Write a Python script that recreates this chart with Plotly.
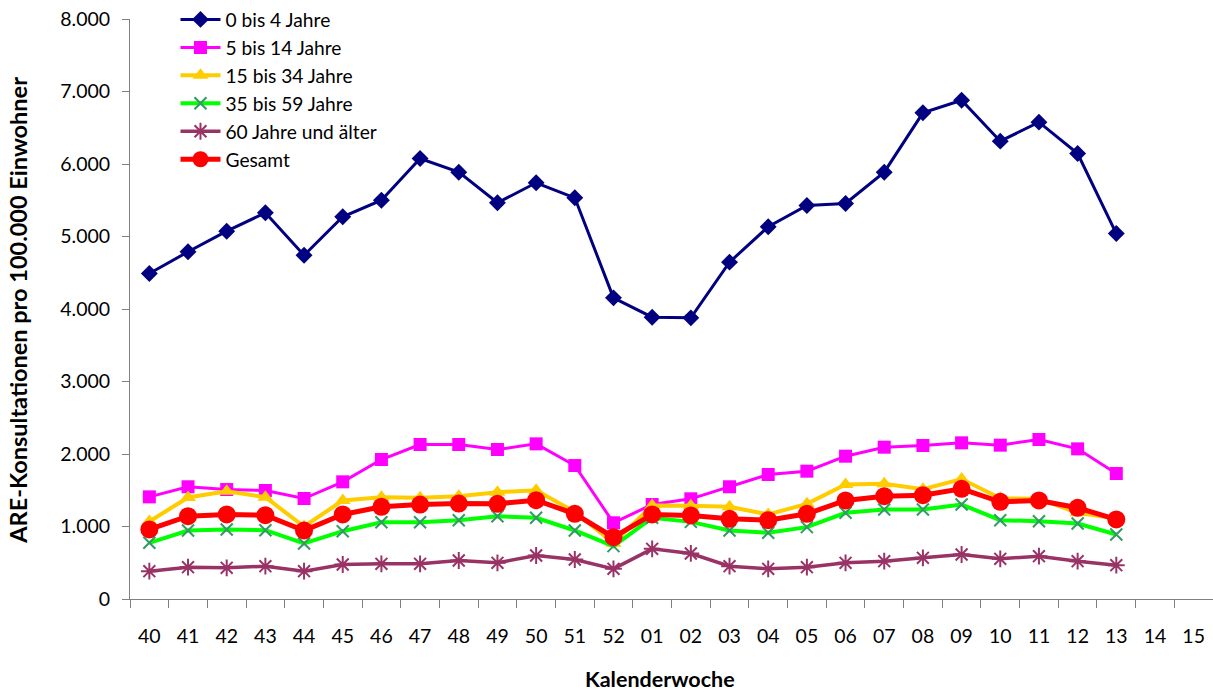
import plotly.graph_objects as go

# Kalenderwochen 40/2012 bis 15/2013
weeks = ["40", "41", "42", "43", "44", "45", "46", "47", "48", "49", "50", "51", "52",
         "01", "02", "03", "04", "05", "06", "07", "08", "09", "10", "11", "12", "13", "14", "15"]

age_0_4 = [4490, 4789, 5073, 5327, 4742, 5272, 5501, 6076, 5887, 5465, 5741, 5534, 4154,
           3887, 3878, 4646, 5134, 5428, 5455, 5887, 6706, 6880, 6315, 6577, 6145, 5041, None, None]
age_5_14 = [1409, 1548, 1510, 1497, 1386, 1616, 1924, 2131, 2131, 2062, 2140, 1841, 1051,
            1303, 1382, 1548, 1717, 1763, 1970, 2094, 2117, 2154, 2122, 2200, 2071, 1731, None, None]
age_15_34 = [1070, 1400, 1487, 1404, 1000, 1359, 1404, 1396, 1418, 1473, 1501, 1200, 770,
             1290, 1285, 1271, 1166, 1313, 1579, 1589, 1515, 1655, 1390, 1382, 1189, 1110, None, None]
age_35_59 = [775, 945, 959, 949, 766, 935, 1059, 1059, 1087, 1142, 1120, 945, 729,
             1120, 1064, 945, 913, 991, 1189, 1234, 1234, 1303, 1087, 1073, 1041, 890, None, None]
age_60_plus = [384, 439, 430, 453, 384, 476, 485, 485, 531, 499, 600, 545, 416,
               692, 628, 453, 416, 439, 499, 522, 568, 614, 554, 591, 522, 467, None, None]
total = [959, 1142, 1166, 1156, 945, 1166, 1271, 1303, 1317, 1313, 1363, 1175, 852,
         1166, 1152, 1106, 1087, 1175, 1359, 1418, 1432, 1520, 1341, 1359, 1258, 1097, None, None]

y_ticks = [0, 1000, 2000, 3000, 4000, 5000, 6000, 7000, 8000]
y_tick_text = ["0", "1.000", "2.000", "3.000", "4.000", "5.000", "6.000", "7.000", "8.000"]

FONT = "Lato, 'Open Sans', sans-serif"

series = [
    ("0 bis 4 Jahre", age_0_4, dict(color="#000080", width=3),
     dict(symbol="diamond", size=13, color="#000080")),
    ("5 bis 14 Jahre", age_5_14, dict(color="#FF00FF", width=3),
     dict(symbol="square", size=13, color="#FF00FF")),
    ("15 bis 34 Jahre", age_15_34, dict(color="#FFCC00", width=4),
     dict(symbol="triangle-up", size=14, color="#FFCC00")),
    ("35 bis 59 Jahre", age_35_59, dict(color="#00FF00", width=4),
     dict(symbol="x-thin-open", size=12, color="#339966", line=dict(width=2, color="#339966"))),
    ("60 Jahre und älter", age_60_plus, dict(color="#993366", width=3.5),
     dict(symbol="asterisk-open", size=14, color="#993366", line=dict(width=2, color="#993366"))),
    ("Gesamt", total, dict(color="#FF0000", width=5),
     dict(symbol="circle", size=18, color="#FF0000")),
]

fig = go.Figure()
for name, values, line, marker in series:
    fig.add_trace(go.Scatter(x=weeks, y=values, name=name, mode="lines+markers",
                             line=line, marker=marker, connectgaps=False))

fig.update_layout(
    width=1213, height=692,
    margin=dict(l=130, r=0, t=19, b=93),
    paper_bgcolor="white", plot_bgcolor="white",
    font=dict(family=FONT, size=19.5, color="black"),
    showlegend=True,
    legend=dict(x=0.042, y=1.032, xanchor="left", yanchor="top",
                bgcolor="rgba(0,0,0,0)", font=dict(size=19.2), tracegroupgap=0,
                itemwidth=40),
    xaxis=dict(
        type="category", categoryorder="array", categoryarray=weeks,
        range=[-0.5, len(weeks) - 0.5],
        showline=True, linecolor="#808080", linewidth=1,
        ticks="outside", tickson="boundaries", ticklen=8, tickcolor="#808080",
        showgrid=False, zeroline=False,
        ticklabelstandoff=20,
        tickfont=dict(size=19.5),
    ),
    yaxis=dict(
        range=[0, 8000], tickvals=y_ticks, ticktext=y_tick_text,
        showline=True, linecolor="#808080", linewidth=1,
        ticks="outside", ticklen=7, tickcolor="#808080",
        showgrid=False, zeroline=False,
        ticklabelstandoff=8,
        tickfont=dict(size=19.5),
    ),
    annotations=[
        dict(text="<b>Kalenderwoche</b>", xref="paper", yref="paper",
             x=(660 - 130) / 1083, y=-(680 - 599.5) / 580.5,
             xanchor="center", yanchor="middle", showarrow=False,
             font=dict(size=21.5, family=FONT)),
        dict(text="<b>ARE-Konsultationen pro 100.000 Einwohner</b>", xref="paper", yref="paper",
             x=-(130 - 18) / 1083, y=(599.5 - 311) / 580.5, textangle=-90,
             xanchor="center", yanchor="middle", showarrow=False,
             font=dict(size=23.5, family=FONT)),
    ],
)

fig.write_html("out.html")
